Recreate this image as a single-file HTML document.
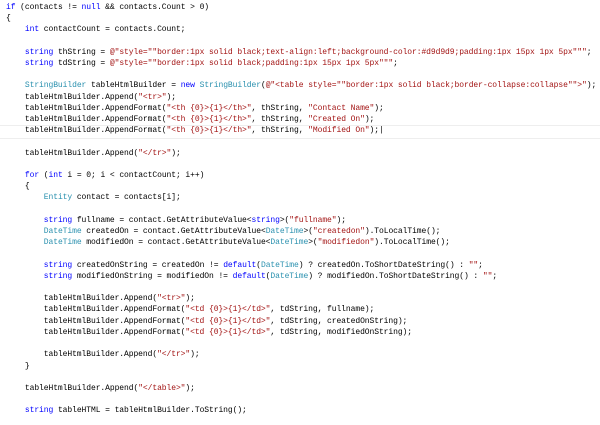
<!DOCTYPE html>
<html><head><meta charset="utf-8"><style>
html,body{margin:0;padding:0;background:#fff;width:600px;height:425px;overflow:hidden}
pre{position:absolute;left:6px;top:2px;margin:0;font-family:"Liberation Mono",monospace;font-size:8px;letter-spacing:-0.08px;line-height:11.2px;color:#000}
.k{color:#0000ff}.t{color:#2b91af}.s{color:#a31515}
.hl{position:absolute;left:0;top:125px;width:600px;height:12px;border-top:1px solid #eee;border-bottom:1px solid #eee}
</style></head><body>
<div class="hl"></div>
<pre><span class="k">if</span> (contacts != <span class="k">null</span> &amp;&amp; contacts.Count &gt; 0)
{
    <span class="k">int</span> contactCount = contacts.Count;

    <span class="k">string</span> thString = <span class="s">@"style=""border:1px solid black;text-align:left;background-color:#d9d9d9;padding:1px 15px 1px 5px"""</span>;
    <span class="k">string</span> tdString = <span class="s">@"style=""border:1px solid black;padding:1px 15px 1px 5px"""</span>;

    <span class="t">StringBuilder</span> tableHtmlBuilder = <span class="k">new</span> <span class="t">StringBuilder</span>(<span class="s">@"&lt;table style=""border:1px solid black;border-collapse:collapse""&gt;"</span>);
    tableHtmlBuilder.Append(<span class="s">"&lt;tr&gt;"</span>);
    tableHtmlBuilder.AppendFormat(<span class="s">"&lt;th {0}&gt;{1}&lt;/th&gt;"</span>, thString, <span class="s">"Contact Name"</span>);
    tableHtmlBuilder.AppendFormat(<span class="s">"&lt;th {0}&gt;{1}&lt;/th&gt;"</span>, thString, <span class="s">"Created On"</span>);
    tableHtmlBuilder.AppendFormat(<span class="s">"&lt;th {0}&gt;{1}&lt;/th&gt;"</span>, thString, <span class="s">"Modified On"</span>);|

    tableHtmlBuilder.Append(<span class="s">"&lt;/tr&gt;"</span>);

    <span class="k">for</span> (<span class="k">int</span> i = 0; i &lt; contactCount; i++)
    {
        <span class="t">Entity</span> contact = contacts[i];

        <span class="k">string</span> fullname = contact.GetAttributeValue&lt;<span class="k">string</span>&gt;(<span class="s">"fullname"</span>);
        <span class="t">DateTime</span> createdOn = contact.GetAttributeValue&lt;<span class="t">DateTime</span>&gt;(<span class="s">"createdon"</span>).ToLocalTime();
        <span class="t">DateTime</span> modifiedOn = contact.GetAttributeValue&lt;<span class="t">DateTime</span>&gt;(<span class="s">"modifiedon"</span>).ToLocalTime();

        <span class="k">string</span> createdOnString = createdOn != <span class="k">default</span>(<span class="t">DateTime</span>) ? createdOn.ToShortDateString() : <span class="s">""</span>;
        <span class="k">string</span> modifiedOnString = modifiedOn != <span class="k">default</span>(<span class="t">DateTime</span>) ? modifiedOn.ToShortDateString() : <span class="s">""</span>;

        tableHtmlBuilder.Append(<span class="s">"&lt;tr&gt;"</span>);
        tableHtmlBuilder.AppendFormat(<span class="s">"&lt;td {0}&gt;{1}&lt;/td&gt;"</span>, tdString, fullname);
        tableHtmlBuilder.AppendFormat(<span class="s">"&lt;td {0}&gt;{1}&lt;/td&gt;"</span>, tdString, createdOnString);
        tableHtmlBuilder.AppendFormat(<span class="s">"&lt;td {0}&gt;{1}&lt;/td&gt;"</span>, tdString, modifiedOnString);

        tableHtmlBuilder.Append(<span class="s">"&lt;/tr&gt;"</span>);
    }

    tableHtmlBuilder.Append(<span class="s">"&lt;/table&gt;"</span>);

    <span class="k">string</span> tableHTML = tableHtmlBuilder.ToString();</pre>
</body></html>
